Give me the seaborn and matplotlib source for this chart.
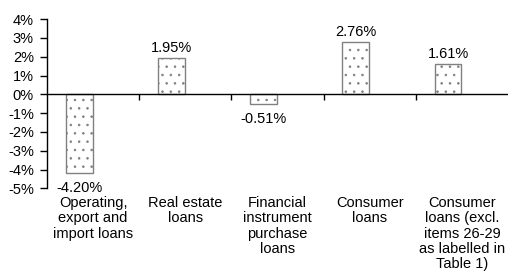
import matplotlib
matplotlib.use("Agg")
import matplotlib.pyplot as plt
import matplotlib.transforms as mtransforms
import seaborn as sns
import pandas as pd

# Data
categories = [
    "Operating,\nexport and\nimport loans",
    "Real estate\nloans",
    "Financial\ninstrument\npurchase\nloans",
    "Consumer\nloans",
    "Consumer\nloans (excl.\nitems 26-29\nas labelled in\nTable 1)",
]
values = [-4.20, 1.95, -0.51, 2.76, 1.61]
value_labels = ["-4.20%", "1.95%", "-0.51%", "2.76%", "1.61%"]
y_ticks = [4, 3, 2, 1, 0, -1, -2, -3, -4, -5]

sns.set_style("white")
plt.rcParams["font.family"] = ["Liberation Sans", "DejaVu Sans"]
plt.rcParams["text.color"] = "black"
plt.rcParams["xtick.color"] = "black"
plt.rcParams["ytick.color"] = "black"
plt.rcParams["hatch.color"] = "black"
plt.rcParams["hatch.linewidth"] = 0.6

fs = 10.5

df = pd.DataFrame({"cat": categories, "val": values})

fig = plt.figure(figsize=(5.08, 2.8), dpi=100)
ax = fig.add_axes([0.0925, 0.327, 0.9075, 0.605])

sns.barplot(data=df, x="cat", y="val", ax=ax, color="white", width=0.29,
            edgecolor="#808080", linewidth=1.0, hatch="..", order=categories)

# bars sit left of the category centre, like the Excel original
for p in ax.patches:
    p.set_x(p.get_x() - 0.15)
    try:
        p.set_hatchcolor("black")
    except AttributeError:
        pass

ax.set_ylim(-5, 4)
ax.set_xlim(-0.5, 4.5)
ax.set_yticks(y_ticks)
ax.set_yticklabels([f"{t}%" for t in y_ticks], fontsize=fs)
ax.set_xlabel("")
ax.set_ylabel("")

# x axis drawn at zero with boundary ticks
ax.spines["bottom"].set_position(("data", 0))
ax.spines["top"].set_visible(False)
ax.spines["right"].set_visible(False)
ax.spines["left"].set_color("black")
ax.spines["bottom"].set_color("black")
ax.spines["left"].set_linewidth(1.0)
ax.spines["bottom"].set_linewidth(1.0)
ax.set_xticks([0.5, 1.5, 2.5, 3.5])
ax.set_xticklabels([])
ax.tick_params(axis="x", direction="out", length=4, width=1, color="black", bottom=True)
ax.tick_params(axis="y", direction="out", length=5, width=1, color="black", left=True, pad=4.5)

# value labels
for p, lab, v in zip(ax.patches, value_labels, values):
    cx = p.get_x() + p.get_width() / 2
    if v >= 0:
        ax.annotate(lab, (cx, v), xytext=(0, 3), textcoords="offset pixels",
                    ha="center", va="bottom", fontsize=fs)
    else:
        ax.annotate(lab, (cx, v), xytext=(0, -8), textcoords="offset pixels",
                    ha="center", va="top", fontsize=fs)

# category labels under the plot area
trans = mtransforms.blended_transform_factory(ax.transData, ax.transAxes)
for i, c in enumerate(categories):
    ax.text(i, -0.045, c, transform=trans, ha="center", va="top", fontsize=fs,
            linespacing=1.12)

fig.savefig("out.png", dpi=100)
